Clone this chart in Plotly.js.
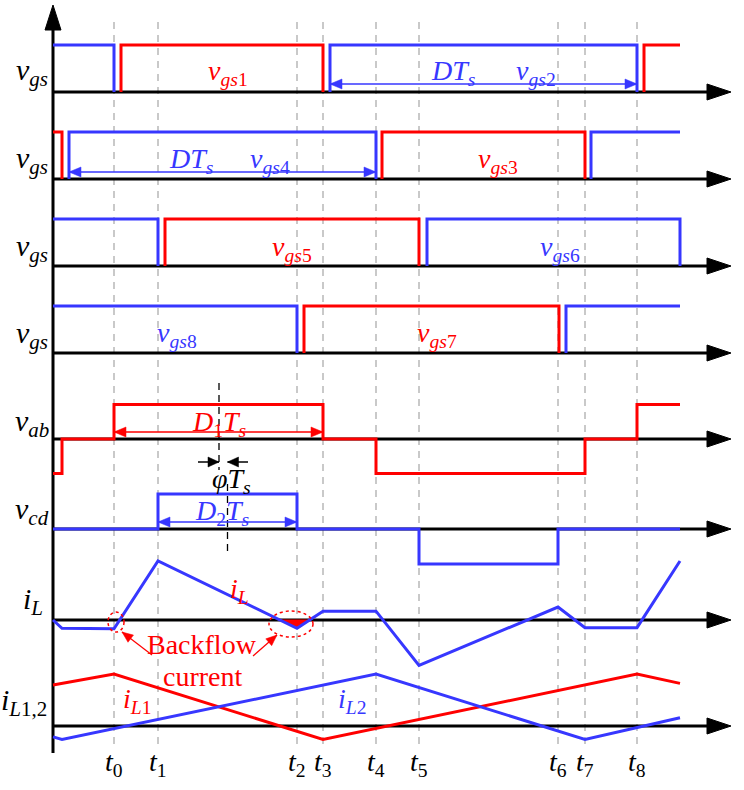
<!DOCTYPE html>
<html><head><meta charset="utf-8">
<script src="https://cdn.plot.ly/plotly-3.0.1.min.js"></script>
<style>html,body{margin:0;padding:0;background:#fff;}#chart{width:744px;height:790px;}</style>
</head><body><div id="chart"></div>
<script>
// ---- data: switching instants (diagram time units) ----
const tLabels = ['0','1','2','3','4','5','6','7','8'];
const tTimes = [114, 158, 297, 323, 376, 419, 558, 585, 637];

// ---- gate signals: breakpoints (time) and logic levels ----
const vgs1X = [121, 121, 323, 323, null, 644, 644, 680];
const vgs1Y = [0, 1, 1, 0, null, 0, 1, 1];
const vgs2X = [53, 114, 114, null, 330, 330, 637, 637];
const vgs2Y = [1, 1, 0, null, 0, 1, 1, 0];
const vgs3X = [53, 62, 62, null, 382, 382, 585, 585];
const vgs3Y = [1, 1, 0, null, 0, 1, 1, 0];
const vgs4X = [69, 69, 376, 376, null, 591, 591, 680];
const vgs4Y = [0, 1, 1, 0, null, 0, 1, 1];
const vgs5X = [165, 165, 419, 419];
const vgs5Y = [0, 1, 1, 0];
const vgs6X = [53, 158, 158, null, 427, 427, 680, 680];
const vgs6Y = [1, 1, 0, null, 0, 1, 1, 0];
const vgs7X = [304, 304, 559, 559];
const vgs7Y = [0, 1, 1, 0];
const vgs8X = [53, 297, 297, null, 566, 566, 680];
const vgs8Y = [1, 1, 0, null, 0, 1, 1];

// ---- bridge voltages (normalised) ----
const vabX = [53, 62, 62, 114, 114, 323, 323, 376, 376, 585, 585, 637, 637, 680];
const vabY = [-1, -1, 0, 0, 1, 1, 0, 0, -1, -1, 0, 0, 1, 1];
const vcdX = [53, 158, 158, 297, 297, 419, 419, 558, 558, 680];
const vcdY = [0, 0, 1, 1, 0, 0, -1, -1, 0, 0];

// ---- currents (normalised) ----
const iLX = [53, 62, 114, 158, 297, 323, 376, 419, 558, 585, 637, 680];
const iLY = [0, -0.14, -0.15, 1.0, -0.14, 0.15, 0.15, -0.77, 0.22, -0.13, -0.13, 1.0];
const iL1X = [53, 114, 323, 637, 680];
const iL1Y = [0.79, 1.0, -0.26, 1.0, 0.82];
const iL2X = [53, 62, 376, 585, 680];
const iL2Y = [-0.21, -0.26, 1.0, -0.26, 0.16];

// ---- layout geometry (pixel-space rows) ----
const RED = '#ff0000', BLUE = '#3737ff', BLACK = '#000000';
const FONT = 'Liberation Serif, Times New Roman, serif';
const rows = {
  g1: {base: 92, amp: 47}, g2: {base: 179, amp: 47}, g3: {base: 266, amp: 47},
  g4: {base: 353, amp: 47}, vab: {base: 439, amp: 34.5}, vcd: {base: 529, amp: 35},
  iL: {base: 620, amp: 59}, i12: {base: 726, amp: 52}
};
const axisX0 = 53, arrowTip = 731, arrowBase = 707;
const map = (r, arr) => arr.map(v => v === null ? null : r.base - v * r.amp);

const traces = [];
// dashed time markers
tTimes.forEach(t => traces.push({x: [t, t], y: [22, 748], mode: 'lines',
  line: {color: '#b8b8b8', width: 1.5, dash: '7px,6px'}}));
// black dashed reference lines (phase shift)
traces.push({x: [219, 219], y: [383, 470], mode: 'lines', line: {color: BLACK, width: 1.3, dash: '7px,5px'}});
traces.push({x: [227.5, 227.5], y: [484, 554], mode: 'lines', line: {color: BLACK, width: 1.3, dash: '7px,5px'}});
// horizontal axes
Object.values(rows).forEach(r => {
  traces.push({x: [axisX0, arrowBase + 2], y: [r.base, r.base], mode: 'lines', line: {color: BLACK, width: 3}});
  traces.push({x: [arrowBase, arrowTip, arrowBase, arrowBase], y: [r.base - 8, r.base, r.base + 8, r.base - 8],
    mode: 'lines', fill: 'toself', fillcolor: BLACK, line: {color: BLACK, width: 1}});
});
// vertical axis
traces.push({x: [axisX0, axisX0], y: [753, 28], mode: 'lines', line: {color: BLACK, width: 3}});
traces.push({x: [axisX0 - 8, axisX0, axisX0 + 8, axisX0 - 8], y: [30, 5, 30, 30], mode: 'lines', fill: 'toself',
  fillcolor: BLACK, line: {color: BLACK, width: 1}});

// backflow area near t2: region where iL < 0 between t1 and t3
(function () {
  const r = rows.iL, px = [], py = [];
  for (let i = 3; i < 5; i++) {
    const a = iLY[i], b = iLY[i + 1];
    if ((a > 0) !== (b > 0)) {
      const f = a / (a - b);
      px.push(iLX[i] + f * (iLX[i + 1] - iLX[i])); py.push(0);
    }
    if (i === 3) { px.push(iLX[4]); py.push(iLY[4]); }
  }
  traces.push({x: px.concat([px[0]]), y: map(r, py.concat([py[0]])), mode: 'lines', fill: 'toself',
    fillcolor: RED, line: {color: RED, width: 1}});
})();

const sig = (x, y, r, c, w) => traces.push({x: x, y: map(r, y), mode: 'lines', line: {color: c, width: w || 3}, connectgaps: false});
sig(vgs2X, vgs2Y, rows.g1, BLUE); sig(vgs1X, vgs1Y, rows.g1, RED);
sig(vgs3X, vgs3Y, rows.g2, RED); sig(vgs4X, vgs4Y, rows.g2, BLUE);
sig(vgs6X, vgs6Y, rows.g3, BLUE); sig(vgs5X, vgs5Y, rows.g3, RED);
sig(vgs8X, vgs8Y, rows.g4, BLUE); sig(vgs7X, vgs7Y, rows.g4, RED);
sig(vabX, vabY, rows.vab, RED);
sig(vcdX, vcdY, rows.vcd, BLUE);
sig(iLX, iLY, rows.iL, BLUE);
sig(iL1X, iL1Y, rows.i12, RED);
sig(iL2X, iL2Y, rows.i12, BLUE);

// ---- arrows drawn as line + filled head ----
function head(xt, yt, xf, yf, c, len, hw) {
  const dx = xt - xf, dy = yt - yf, L = Math.hypot(dx, dy), ux = dx / L, uy = dy / L;
  const bx = xt - ux * len, by = yt - uy * len;
  traces.push({x: [xt, bx - uy * hw, bx + uy * hw, xt], y: [yt, by + ux * hw, by - ux * hw, yt], mode: 'lines',
    fill: 'toself', fillcolor: c, line: {color: c, width: 0.5}});
}
function arrow(x0, y0, x1, y1, c, both, w, len, hw) {
  len = len || 12; hw = hw || 5;
  traces.push({x: [x0, x1], y: [y0, y1], mode: 'lines', line: {color: c, width: w || 1.5}});
  head(x1, y1, x0, y0, c, len, hw);
  if (both) head(x0, y0, x1, y1, c, len, hw);
}
arrow(330, 84, 637, 84, BLUE, true);
arrow(69, 172, 376, 172, BLUE, true);
arrow(114, 432, 323, 432, RED, true);
arrow(158, 522, 297, 522, BLUE, true);
arrow(198, 462, 219, 462, BLACK, false, 1.5, 11, 5);
arrow(248, 462, 227.5, 462, BLACK, false, 1.5, 11, 5);
arrow(152, 655, 122, 632, RED, false, 1.2, 11, 4.5);
arrow(253, 656, 277, 635, RED, false, 1.2, 11, 4.5);

// ---- text annotations ----
const ann = [];
const txt = (x, y, t, c, s) => ann.push({x: x, y: y, xref: 'x', yref: 'y', text: t, showarrow: false,
  font: {family: FONT, size: s || 28, color: c || BLACK}, xanchor: 'center', yanchor: 'middle'});

const vgs = '<i>v</i><sub><i>gs</i></sub>';
[72, 160, 248, 335].forEach(y => txt(32, y, vgs, BLACK, 30));
txt(32, 423, '<i>v</i><sub><i>ab</i></sub>', BLACK, 30);
txt(32, 511, '<i>v</i><sub><i>cd</i></sub>', BLACK, 30);
txt(33, 601, '<i>i</i><sub><i>L</i></sub>', BLACK, 30);
txt(24, 702, '<i>i</i><sub><i>L</i>1,2</sub>', BLACK, 30);

txt(228, 72, '<i>v</i><sub><i>gs</i>1</sub>', RED, 28);
txt(453, 72, '<i>DT</i><sub><i>s</i></sub>', BLUE, 28);
txt(536, 72, '<i>v</i><sub><i>gs</i>2</sub>', BLUE, 28);
txt(191, 160, '<i>DT</i><sub><i>s</i></sub>', BLUE, 28);
txt(270, 160, '<i>v</i><sub><i>gs</i>4</sub>', BLUE, 28);
txt(498, 160, '<i>v</i><sub><i>gs</i>3</sub>', RED, 28);
txt(292, 248, '<i>v</i><sub><i>gs</i>5</sub>', RED, 28);
txt(560, 248, '<i>v</i><sub><i>gs</i>6</sub>', BLUE, 28);
txt(177, 334, '<i>v</i><sub><i>gs</i>8</sub>', BLUE, 28);
txt(437, 334, '<i>v</i><sub><i>gs</i>7</sub>', RED, 28);

txt(219, 423, '<i>D</i><sub>1</sub><i>T</i><sub><i>s</i></sub>', RED, 28);
txt(222, 512, '<i>D</i><sub>2</sub><i>T</i><sub><i>s</i></sub>', BLUE, 28);
txt(231, 480, '<i>φT</i><sub><i>s</i></sub>', BLACK, 28);

txt(239, 590, '<i>i</i><sub><i>L</i></sub>', RED, 28);
txt(137, 700, '<i>i</i><sub><i>L</i>1</sub>', RED, 28);
txt(352, 700, '<i>i</i><sub><i>L</i>2</sub>', BLUE, 28);
txt(202, 644, 'Backflow', RED, 28);
txt(203, 676, 'current', RED, 28);

tTimes.forEach((t, i) => txt(t, 763, '<i>t</i><sub>' + tLabels[i] + '</sub>', BLACK, 28));

const shapes = [
  {type: 'circle', xref: 'x', yref: 'y', x0: 108, x1: 124, y0: 612, y1: 632, line: {color: RED, width: 1.5, dash: 'dot'}},
  {type: 'circle', xref: 'x', yref: 'y', x0: 269, x1: 313, y0: 611, y1: 637, line: {color: RED, width: 1.5, dash: 'dot'}}
];

const layout = {
  width: 744, height: 790, margin: {l: 0, r: 0, t: 0, b: 0}, showlegend: false,
  paper_bgcolor: '#ffffff', plot_bgcolor: '#ffffff',
  xaxis: {range: [0, 744], visible: false, fixedrange: true},
  yaxis: {range: [790, 0], visible: false, fixedrange: true},
  annotations: ann, shapes: shapes
};
traces.forEach(t => { t.hoverinfo = 'skip'; });
Plotly.newPlot('chart', traces, layout, {staticPlot: true});
</script></body></html>
